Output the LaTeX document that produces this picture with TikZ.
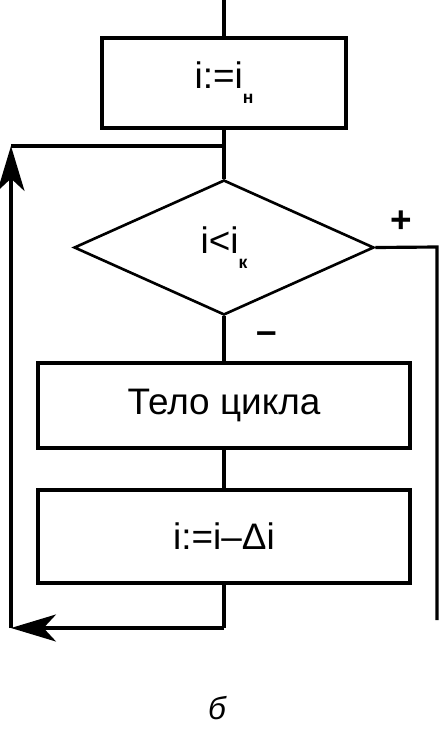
\documentclass[tikz,border=0pt]{standalone}
\usepackage{fontspec}
\setmainfont{Liberation Sans}
\usetikzlibrary{shapes.geometric,arrows.meta}
\newcommand{\lowidx}[1]{\raisebox{-0.4em}{\fontsize{10}{10}\selectfont\bfseries #1}}

\begin{document}
\begin{tikzpicture}[x=0.02cm,y=-0.02cm,line width=1.8pt,
    every node/.style={font=\fontsize{21}{24}\selectfont},
    block/.style={draw,rectangle,inner sep=0pt},
    cond/.style={draw,diamond,minimum width=6cm,minimum height=2.7cm,inner sep=0pt,line width=1.5pt},
    back/.style={-{Stealth[length=0.9cm,width=0.54cm,inset=0.25cm]}}]
    \useasboundingbox (0,0) rectangle (442,734);

    \node[block,minimum width=4.88cm,minimum height=1.8cm] (init) at (224,83) {i:=i\lowidx{н}};
    \node[cond] (check) at (224,247.5) {i<i\lowidx{к}};
    \node[block,minimum width=7.44cm,minimum height=1.7cm] (body) at (224,405.5) {Тело цикла};
    \node[block,minimum width=7.44cm,minimum height=1.86cm] (incr) at (224,536.5) {i:=i–Δi};

    \coordinate (start) at (224,0);
    \coordinate (merge) at (224,146);
    \coordinate (ret) at (224,628);
    \coordinate (botleft) at (11,628);
    \coordinate (topleft) at (11,146);
    \coordinate (outright) at (437,247);
    \coordinate (exit) at (437,620);

    \draw (start) -- (init.north);
    \draw (init.south) -- (check.north);
    \draw (check.south) -- (body.north);
    \draw (body.south) -- (incr.north);
    \draw (incr.south) -- (ret);
    \draw[back] (ret) -- (botleft);
    \draw[back] (botleft) -- (topleft);
    \draw (topleft) -- (merge);
    \draw (check.east) -- (outright) -- (exit);

    \node (plus) at (401,222) {\textbf{+}};
    \node (minus) at (267,338) {\textbf{–}};
    \node[font=\fontsize{18}{20}\selectfont] (label) at (217,708) {\itshape б};
\end{tikzpicture}
\end{document}
